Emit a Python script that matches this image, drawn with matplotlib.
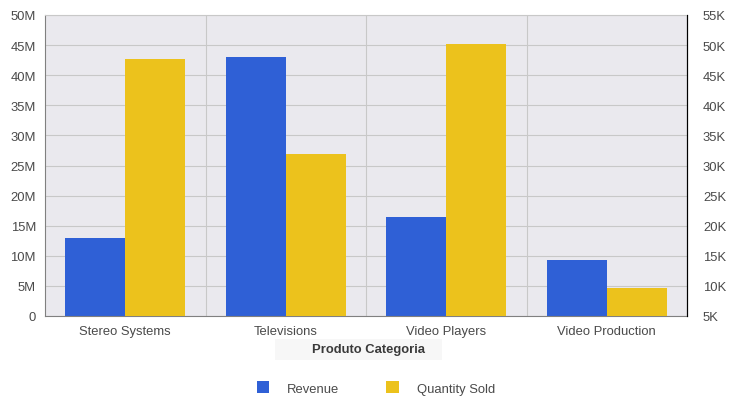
import numpy as np
import matplotlib
matplotlib.use("Agg")
import matplotlib.pyplot as plt
from matplotlib.patches import Patch, Rectangle
from matplotlib.ticker import FuncFormatter, MultipleLocator

categories = ["Stereo Systems", "Televisions", "Video Players", "Video Production"]
revenue = [13.0e6, 43.0e6, 16.4e6, 9.3e6]
quantity = [47700, 31900, 50200, 9650]

blue = "#2F60D6"
yellow = "#ECC21C"
txt = "#4A4A4A"
fs = 9.4

plt.rcParams["font.family"] = ["Liberation Sans", "DejaVu Sans"]
plt.rcParams["font.size"] = fs

fig = plt.figure(figsize=(7.42, 4.02), dpi=100)
ax = fig.add_axes([45 / 742, 85 / 402, 642 / 742, 301 / 402])
ax.set_facecolor("#EAE9EE")
ax.set_axisbelow(True)

x = np.arange(len(categories))
w = 0.374
ax.bar(x - w / 2, revenue, width=w, color=blue, zorder=2)
ax.set_xlim(-0.5, len(categories) - 0.5)
ax.set_ylim(0, 50e6)
ax.yaxis.set_major_locator(MultipleLocator(5e6))
ax.yaxis.set_major_formatter(FuncFormatter(lambda v, p: "0" if v == 0 else "{:.0f}M".format(v / 1e6)))
ax.set_xticks(x)
ax.set_xticklabels(categories)
ax.set_xticks(x[:-1] + 0.5, minor=True)
ax.grid(True, axis="y", which="major", color="#C8C8C8", linewidth=0.8)
ax.grid(True, axis="x", which="minor", color="#C8C8C8", linewidth=0.8)
ax.tick_params(axis="y", length=0, pad=6.5, colors=txt, labelsize=fs)
ax.tick_params(axis="x", which="both", length=0, pad=6.5, colors=txt, labelsize=fs)
ax.spines["left"].set_color("#808080")
ax.spines["bottom"].set_color("#808080")
ax.spines["top"].set_color("#C8C8C8")
ax.spines["right"].set_color("black")

ax2 = ax.twinx()
ax2.bar(x + w / 2, quantity, width=w, color=yellow, zorder=2)
ax2.set_ylim(5000, 55000)
ax2.yaxis.set_major_locator(MultipleLocator(5000))
ax2.yaxis.set_major_formatter(FuncFormatter(lambda v, p: "{:.0f}K".format(v / 1000)))
ax2.tick_params(axis="y", length=0, pad=11.5, colors=txt, labelsize=fs)
for s in ["left", "top", "bottom"]:
    ax2.spines[s].set_visible(False)
ax2.spines["right"].set_color("black")

# axis title with light box
fig.patches.append(Rectangle((275 / 742, 41 / 402), 167 / 742, 21 / 402,
                             transform=fig.transFigure, facecolor="#F7F7F7",
                             edgecolor="none", zorder=0))
fig.text(368 / 742, 1 - 350.5 / 402, "Produto Categoria", ha="center", va="center",
         fontsize=fs, fontweight="bold", color="#3A3A3A")

handles = [Patch(facecolor=blue, edgecolor="none"), Patch(facecolor=yellow, edgecolor="none")]
fig.legend(handles, ["Revenue", "Quantity Sold"], loc="center", bbox_to_anchor=(376 / 742, 1 - 389 / 402),
           ncol=2, frameon=False, handlelength=0.95, handleheight=0.95, handletextpad=1.4,
           columnspacing=3.6, labelcolor=txt, fontsize=fs)

fig.savefig("out.png", dpi=100)
